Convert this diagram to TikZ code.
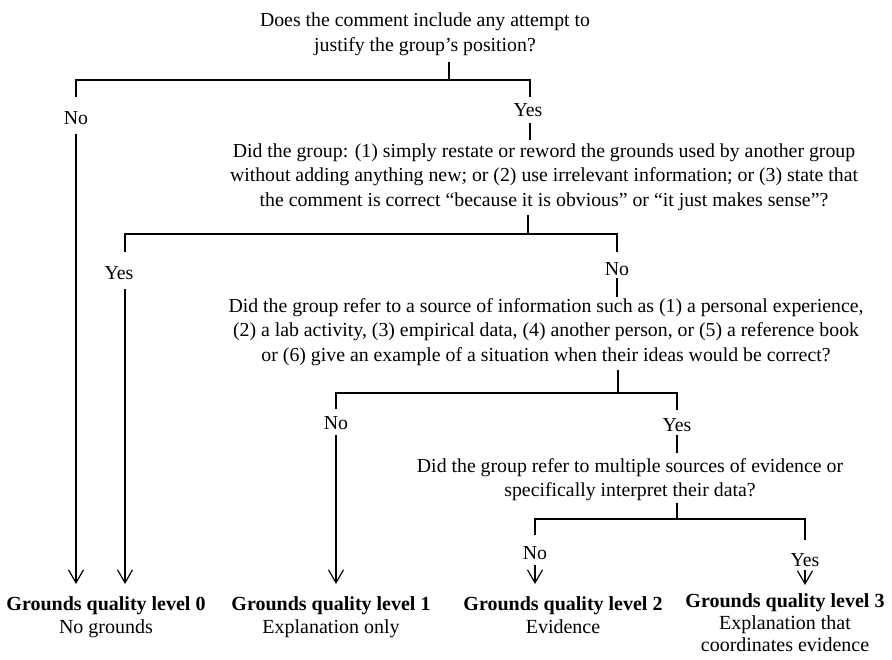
\documentclass[tikz,border=0pt]{standalone}
\usepackage{fontspec}
\setmainfont{Liberation Serif}
\usetikzlibrary{arrows.meta}
\begin{document}
\begin{tikzpicture}[x=1pt,y=-1pt,
  every node/.style={inner sep=0pt, outer sep=0pt},
  q/.style={align=center, font=\fontsize{19.8}{24.5}\selectfont},
  lab/.style={font=\fontsize{19.8}{24.5}\selectfont},
  res/.style={align=center, anchor=north, font=\fontsize{20}{23}\selectfont},
  ln/.style={line width=1.2pt},
  arr/.style={ln, -{Straight Barb[length=13pt,width=15pt,line width=1.2pt]}}]
\useasboundingbox (0,0) rectangle (892,659);
% questions
\node[q] (q1) at (425,34.5) {Does the comment include any attempt to\\justify the group’s position?};
\node[q] (q2) at (544,177) {Did the group: (1) simply restate or reword the grounds used by another group\\without adding anything new; or (2) use irrelevant information; or (3) state that\\the comment is correct “because it is obvious” or “it just makes sense”?};
\node[q] (q3) at (546,332) {Did the group refer to a source of information such as (1) a personal experience,\\(2) a lab activity, (3) empirical data, (4) another person, or (5) a reference book\\or (6) give an example of a situation when their ideas would be correct?};
\node[q] (q4) at (630,479.5) {Did the group refer to multiple sources of evidence or\\specifically interpret their data?};
% labels
\node[lab] (no1) at (76,118) {No};
\node[lab] (yes1) at (528,110) {Yes};
\node[lab] (yes2) at (119,273) {Yes};
\node[lab] (no2) at (617,269) {No};
\node[lab] (no3) at (336,423) {No};
\node[lab] (yes3) at (677,425) {Yes};
\node[lab] (no4) at (535,553) {No};
\node[lab] (yes4) at (805,560) {Yes};
% results
\node[res] (g0) at (106,597) {\textbf{Grounds quality level 0}\\No grounds};
\node[res] (g1) at (331,597) {\textbf{Grounds quality level 1}\\Explanation only};
\node[res] (g2) at (563,597) {\textbf{Grounds quality level 2}\\Evidence};
\node[res, font=\fontsize{20}{22}\selectfont] (g3) at (785,594) {\textbf{Grounds quality level 3}\\Explanation that\\coordinates evidence};
% connector points
\coordinate (q1s) at (449,62);  \coordinate (q1b) at (449,80);
\coordinate (n1t) at (76,97);   \coordinate (n1b) at (76,134);
\coordinate (y1t) at (530,97);  \coordinate (y1b) at (530,123);
\coordinate (q2t) at (530,140);
\coordinate (q2s) at (528,215); \coordinate (q2b) at (528,234);
\coordinate (y2t) at (125,252); \coordinate (y2b) at (125,289);
\coordinate (n2t) at (617,252); \coordinate (n2b) at (617,278);
\coordinate (q3t) at (617,297);
\coordinate (q3s) at (618,370); \coordinate (q3b) at (618,393);
\coordinate (n3t) at (336,409); \coordinate (n3b) at (336,435);
\coordinate (y3t) at (677,410); \coordinate (y3b) at (677,435);
\coordinate (q4t) at (677,453);
\coordinate (q4s) at (677,503); \coordinate (q4b) at (677,519);
\coordinate (n4t) at (535,535); \coordinate (n4b) at (535,565);
\coordinate (y4t) at (805,540); \coordinate (y4b) at (805,570);
\coordinate (a0a) at (76,584);  \coordinate (a0b) at (125,584);
\coordinate (a1) at (336,584);  \coordinate (a2) at (535,584);
\coordinate (a3) at (805,585);
% connectors
\draw[ln] (q1s) -- (q1b) -| (n1t);
\draw[ln] (q1b) -| (y1t);
\draw[ln] (y1b) -- (q2t);
\draw[arr] (n1b) -- (a0a);
\draw[ln] (q2s) -- (q2b) -| (y2t);
\draw[ln] (q2b) -| (n2t);
\draw[ln] (n2b) -- (q3t);
\draw[arr] (y2b) -- (a0b);
\draw[ln] (q3s) -- (q3b) -| (n3t);
\draw[ln] (q3b) -| (y3t);
\draw[ln] (y3b) -- (q4t);
\draw[arr] (n3b) -- (a1);
\draw[ln] (q4s) -- (q4b) -| (n4t);
\draw[ln] (q4b) -| (y4t);
\draw[arr] (n4b) -- (a2);
\draw[arr] (y4b) -- (a3);
\end{tikzpicture}
\end{document}
